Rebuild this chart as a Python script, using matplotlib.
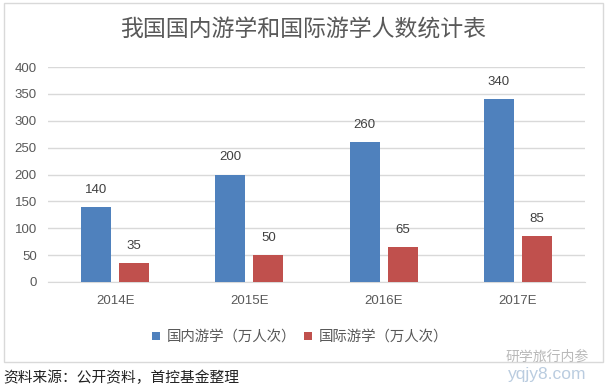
import matplotlib
matplotlib.use("Agg")
import matplotlib.pyplot as plt
from matplotlib.patches import Rectangle
import numpy as np

plt.rcParams['font.family'] = ['Liberation Sans', 'Noto Sans CJK SC', 'DejaVu Sans']

categories = ["2014E", "2015E", "2016E", "2017E"]
domestic = [140, 200, 260, 340]
international = [35, 50, 65, 85]
series_names = ["国内游学（万人次）", "国际游学（万人次）"]
title = "我国国内游学和国际游学人数统计表"
source = "资料来源：公开资料，首控基金整理"
yticks = [0, 50, 100, 150, 200, 250, 300, 350, 400]

blue = "#4F81BD"
red = "#C0504D"
txt = "#595959"

fig = plt.figure(figsize=(6.1, 3.9), dpi=100)
fig.patch.set_facecolor("white")

# chart border box
fig.add_artist(Rectangle((4/610, 1 - 362/390), 599/610, 359/390,
                         transform=fig.transFigure, fill=False,
                         edgecolor="#D9D9D9", linewidth=1.0))

ax = fig.add_axes([48/610, 1 - 282/390, 537/610, 215/390])
x = np.arange(len(categories))
w = 0.224
off = 0.142
b1 = ax.bar(x - off, domestic, w, color=blue, label=series_names[0], zorder=3)
b2 = ax.bar(x + off, international, w, color=red, label=series_names[1], zorder=3)

for bars, vals in ((b1, domestic), (b2, international)):
    for r, v in zip(bars, vals):
        ax.annotate(str(v), (r.get_x() + r.get_width() / 2, v),
                    xytext=(0, 8), textcoords="offset points",
                    ha="center", va="bottom", fontsize=9.5, color="#404040")

ax.set_xlim(-0.5, len(categories) - 0.5)
ax.set_ylim(0, 400)
ax.set_yticks(yticks)
ax.set_yticklabels([str(t) for t in yticks])
ax.set_xticks(x)
ax.set_xticklabels(categories)
ax.tick_params(axis="y", length=0, pad=8, labelsize=9.5, labelcolor=txt)
ax.tick_params(axis="x", length=0, pad=9, labelsize=9.5, labelcolor=txt)
ax.grid(axis="y", color="#D9D9D9", linewidth=1.0, zorder=0)
for s in ("left", "right", "top"):
    ax.spines[s].set_visible(False)
ax.spines["bottom"].set_color("#D9D9D9")
ax.set_facecolor("white")

fig.text(303/610, 1 - 29/390, title, ha="center", va="center",
         fontsize=16.5, color=txt)

leg = fig.legend(handles=[b1, b2], loc="center", bbox_to_anchor=(300/610, 1 - 337/390),
                 ncol=2, frameon=False, fontsize=10.4, handlelength=0.55,
                 handleheight=0.55, handletextpad=0.45, columnspacing=0.6)
for t in leg.get_texts():
    t.set_color(txt)

fig.text(3/610, 1 - 378/390, source, ha="left", va="center",
         fontsize=10.6, color="#222222")

# faint watermark
fig.text(547/610, 1 - 357/390, "研学旅行内参", ha="center", va="center",
         fontsize=10, color="#A8A8A8", alpha=0.8)
fig.text(547/610, 1 - 374/390, "yqjy8.com", ha="center", va="center",
         fontsize=12.5, color="#A9C0D8", alpha=0.8)

fig.savefig("out.png", dpi=100)
